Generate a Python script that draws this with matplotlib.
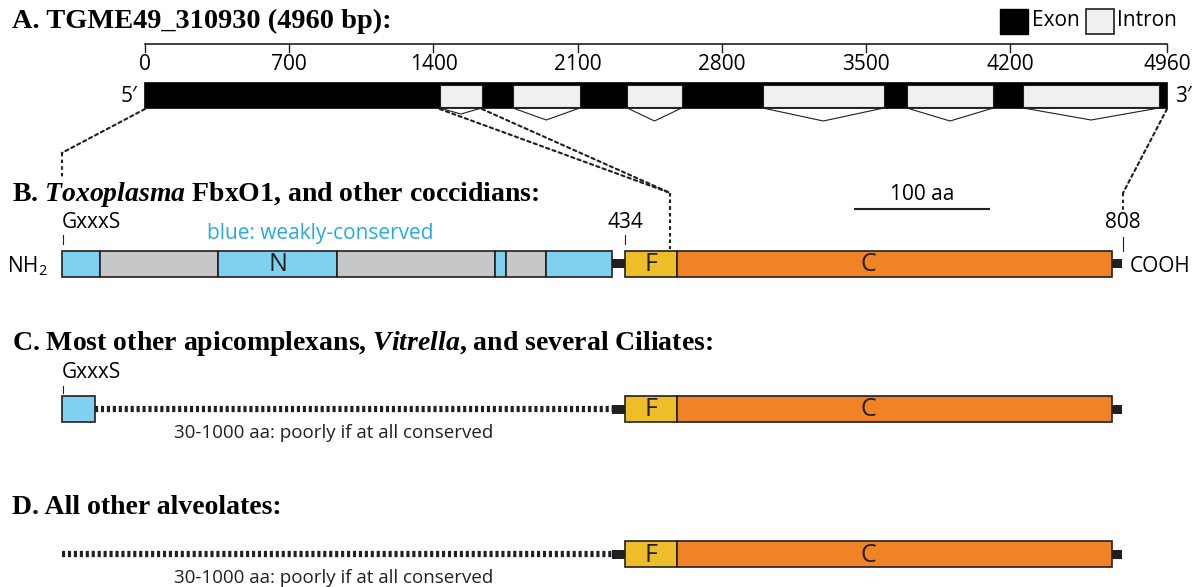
import matplotlib
matplotlib.use("Agg")
import matplotlib.pyplot as plt
from matplotlib.patches import Rectangle, ConnectionPatch

plt.rcParams['font.family'] = ['Open Sans', 'DejaVu Sans']
plt.rcParams['mathtext.fontset'] = 'custom'
plt.rcParams['mathtext.it'] = 'Liberation Serif:italic:bold'
plt.rcParams['mathtext.default'] = 'regular'

# ---- gene (panel A), in bp
gene_len = 4960
gene_ticks = [0, 700, 1400, 2100, 2800, 3500, 4200, 4960]
introns = [(1430, 1635), (1785, 2110), (2340, 2605), (2998, 3586),
           (3697, 4117), (4262, 4921)]
intron_depth = [6, 12, 13, 13, 13, 12]

# ---- protein (panels B-D), in aa
prot_len = 808
fbox_start = 434
b_edges = [11, 40, 128, 218, 336, 345, 375, 424]
b_kinds = ['blue', 'gray', 'blue', 'gray', 'blue', 'gray', 'blue']
b_labels = ['', '', 'N', '', '', '', '']
fbox = (434, 473)
cdom = (473, 800)
linkers = [(424, 434), (800, 807)]
c_blue = (11, 36)
scale_bar = (607, 100)
poor_region = (36, 424)
poor_region_d = (11, 424)

BLUE = '#80D0F0'
GRAY = '#C6C7C9'
YELLOW = '#EDBD2A'
ORANGE = '#F08326'
DARK = '#231F20'
TXT_BLUE = '#29ABE2'
colors = {'blue': BLUE, 'gray': GRAY}

W, H = 1200, 587
fig = plt.figure(figsize=(12, 5.87), dpi=100)
ax = fig.add_axes([0, 0, 1, 1])
ax.set_xlim(0, W); ax.set_ylim(H, 0); ax.axis('off')
gx = fig.add_axes([145 / W, 0, (1167 - 145) / W, 1])
gx.set_xlim(0, gene_len); gx.set_ylim(H, 0); gx.axis('off')
px = fig.add_axes([47.1 / W, 0, (1123 - 47.1) / W, 1])
px.set_xlim(0, prot_len); px.set_ylim(H, 0); px.axis('off')

serif = dict(family='Liberation Serif', fontweight='bold', fontsize=20)
SANS = 15

# ---- titles
ax.text(12, 28, 'A. TGME49_310930 (4960 bp):', va='baseline',
        family='Liberation Serif', fontweight='bold', fontsize=20.4)
ax.text(12, 201, r'B. $\mathit{Toxoplasma}$ FbxO1, and other coccidians:',
        va='baseline', **serif)
ax.text(12, 350, r'C. Most other apicomplexans, $\mathit{Vitrella}$, and several Ciliates:',
        va='baseline', **serif)
ax.text(12, 514, 'D. All other alveolates:', va='baseline', **serif)

# ---- legend
ax.add_patch(Rectangle((1000, 9), 28, 25, fc='black', ec='black', lw=1))
ax.text(1032, 21, 'Exon', va='center', fontsize=SANS)
ax.add_patch(Rectangle((1086, 9), 28, 25, fc='#F0F0F0', ec=DARK, lw=1.2))
ax.text(1117, 21, 'Intron', va='center', fontsize=SANS)

# ---- panel A: gene
gy0, gh = 83, 25
gx.plot([0, gene_len], [44, 44], color=DARK, lw=1.2, clip_on=False)
for t in gene_ticks:
    gx.plot([t, t], [44, 52], color=DARK, lw=1, clip_on=False)
    gx.text(t, 64, str(t), ha='center', va='center', fontsize=SANS)
gx.add_patch(Rectangle((0, gy0), gene_len, gh, fc='black', ec='black',
                       lw=1.2, clip_on=False))
for (s, e), d in zip(introns, intron_depth):
    gx.add_patch(Rectangle((s, gy0 + 1.5), e - s, gh - 3, fc='#F0F0F0',
                           ec=DARK, lw=0.8, clip_on=False))
    gx.plot([s, (s + e) / 2, e], [gy0 + gh, gy0 + gh + d, gy0 + gh],
            color=DARK, lw=0.8, clip_on=False)
ax.text(137, 96, '5\u2032', ha='right', va='center', fontsize=SANS)
ax.text(1175, 96, '3\u2032', ha='left', va='center', fontsize=SANS)


# ---- protein helpers
def segbar(xs, xe, yc, fc, label=None, h=26):
    px.add_patch(Rectangle((xs, yc - h / 2), xe - xs, h, fc=fc, ec=DARK,
                           lw=1.2, clip_on=False))
    if label:
        px.text((xs + xe) / 2, yc + 1, label, ha='center', va='center',
                fontsize=18, color=DARK)


def fc_part(yc):
    for s, e in linkers:
        px.add_patch(Rectangle((s, yc - 4.5), e - s, 9, fc=DARK, ec='none',
                               clip_on=False))
    segbar(fbox[0], fbox[1], yc, YELLOW)
    segbar(cdom[0], cdom[1], yc, ORANGE)
    px.text((fbox[0] + fbox[1]) / 2, yc + 1, 'F', ha='center', va='center',
            fontsize=18, color=DARK)
    px.text(617, yc + 1, 'C', ha='center', va='center', fontsize=18,
            color=DARK)


def poor(xs, xe, yc):
    px.plot([xs, xe], [yc, yc], color=DARK, lw=4.5, dashes=(0.5, 0.45),
            solid_capstyle='butt', dash_capstyle='butt', clip_on=False)
    px.text(95, yc + 24, '30-1000 aa: poorly if at all conserved',
            ha='left', va='center', fontsize=13.5, color=DARK)


def tick(x, y0, y1):
    px.plot([x, x], [y0, y1], color=DARK, lw=0.8, clip_on=False)


# ---- panel B
yb = 263.5
for s, e, k, lab in zip(b_edges[:-1], b_edges[1:], b_kinds, b_labels):
    segbar(s, e, yb, colors[k], lab)
fc_part(yb)
px.text(b_edges[0], 223, 'GxxxS', ha='left', va='center', fontsize=SANS)
tick(b_edges[0] + 1, 235, 244)
px.text(fbox_start, 223, str(fbox_start), ha='center', va='center', fontsize=SANS)
tick(fbox_start, 235, 244)
px.text(prot_len, 223, str(prot_len), ha='center', va='center', fontsize=SANS)
tick(prot_len, 237, 251)
px.text(120, 233, 'blue: weakly-conserved', ha='left', va='center',
        fontsize=SANS, color=TXT_BLUE)
px.plot([scale_bar[0], scale_bar[0] + scale_bar[1]], [209, 209],
        color=DARK, lw=1.5)
px.text(scale_bar[0] + scale_bar[1] / 2, 194, '%d aa' % scale_bar[1],
        ha='center', va='center', fontsize=SANS)
ax.text(48, 266, 'NH$_2$', ha='right', va='center', fontsize=SANS)
ax.text(1130, 266, 'COOH', ha='left', va='center', fontsize=SANS)

# ---- panel C
yc = 409
segbar(c_blue[0], c_blue[1], yc, BLUE)
px.text(c_blue[0], 373, 'GxxxS', ha='left', va='center', fontsize=SANS)
tick(c_blue[0] + 1, 386, 393)
poor(poor_region[0], poor_region[1], yc)
fc_part(yc)

# ---- panel D
yd = 554
poor(poor_region_d[0], poor_region_d[1], yd)
fc_part(yd)

# ---- dotted connectors gene -> protein
dot = dict(color=DARK, lw=1.5, linestyle=(0, (1.6, 1.6)))


def connect(bp, aa, ycorner, yend):
    cp = ConnectionPatch(xyA=(bp, gy0 + gh + 1), coordsA=gx.transData,
                         xyB=(aa, ycorner), coordsB=px.transData, **dot)
    fig.add_artist(cp)
    px.plot([aa, aa], [ycorner, yend], clip_on=False, **dot)


connect(0, b_edges[0], 153, 177)
connect(introns[0][0], 468, 193, 249)
connect(introns[0][1], 468, 193, 249)
connect(gene_len, prot_len, 193, 210)

fig.savefig('out.png', dpi=100)
